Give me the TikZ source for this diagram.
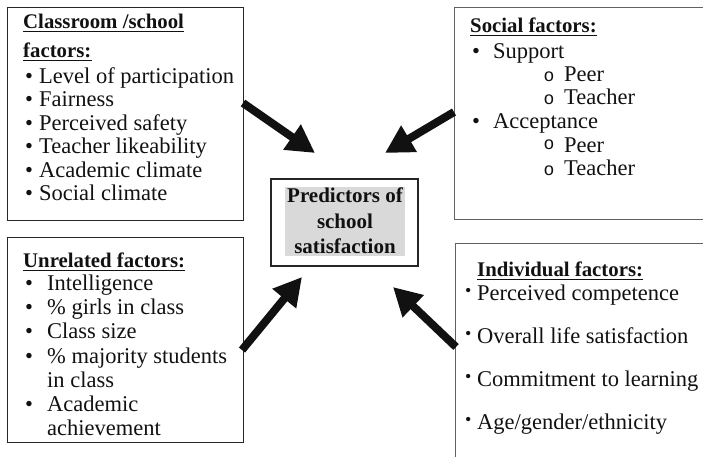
\documentclass[tikz,border=0pt]{standalone}
\usepackage{fontspec}
\setmainfont{Liberation Serif}
\newfontfamily\circfont{Liberation Mono}
\usetikzlibrary{arrows.meta}
\definecolor{ink}{HTML}{111111}
\definecolor{labelgray}{HTML}{D9D9D9}

\begin{document}
\begin{tikzpicture}[x=1pt,y=-1pt,
  panel/.style={draw=black!85, line width=1.2pt, anchor=north west, inner sep=0pt},
  panelr/.style={panel, draw=black!62},
  txt/.style={anchor=base west, inner sep=0pt, text=ink, font=\rmfamily\fontsize{22.5}{23}\selectfont},
  head/.style={txt, font=\rmfamily\bfseries\fontsize{20.8}{22}\selectfont},
  ctr/.style={anchor=base, inner sep=0pt, text=ink, font=\rmfamily\bfseries\fontsize{21}{22}\selectfont},
  bul/.style={txt},
  smallbul/.style={anchor=base west, inner sep=0pt, text=ink, font=\rmfamily\fontsize{18}{18}\selectfont, yshift=3.5pt},
  subbul/.style={anchor=base west, inner sep=0pt, text=ink, font=\circfont\fontsize{18}{18}\selectfont},
  uline/.style={line width=1.6pt, draw=ink},
  push/.style={line width=8pt, draw=ink, -{Triangle[length=28pt,width=29pt]}}
]
\useasboundingbox (0,0) rectangle (703,456);
\clip (0,0) rectangle (703,456);

% --- frames -------------------------------------------------------------
\node[panel, minimum width=236pt, minimum height=213pt] (cls) at (7,7) {};
\node[panelr, minimum width=270pt, minimum height=212pt] (soc) at (454,7) {};
\node[panel, minimum width=236pt, minimum height=205pt] (unr) at (7,237) {};
\node[panelr, minimum width=270pt, minimum height=250pt] (ind) at (455,243) {};

% --- central box --------------------------------------------------------
\node[draw=black!85, line width=1.2pt, minimum width=147pt, minimum height=87pt, inner sep=0pt] (core) at (344.5,222.5) {};
\node[fill=labelgray, minimum width=120pt, minimum height=69pt, inner sep=0pt] (coretag) at (345,221.5) {};
\node[ctr] (c1) at (345,202) {Predictors of};
\node[ctr] (c2) at (345,228) {school};
\node[ctr] (c3) at (345,253) {satisfaction};

% --- classroom / school factors -----------------------------------------
\node[head] (clsh1) at (23,28) {Classroom /school};
\node[head] (clsh2) at (23,57) {factors:};
\draw[uline] ([yshift=-3.5pt]clsh1.base west) -- ([yshift=-3.5pt]clsh1.base east);
\draw[uline] ([yshift=-3.5pt]clsh2.base west) -- ([yshift=-3.5pt]clsh2.base east);
\foreach \y/\t [count=\i] in {83/{Level of participation}, 106/{Fairness}, 130/{Perceived safety},
    153/{Teacher likeability}, 177/{Academic climate}, 200/{Social climate}}{
  \node[bul] (clsb\i) at (25,\y) {•};
  \node[txt] (clst\i) at (39,\y) {\t};
}

% --- social factors ----------------------------------------------------
\node[head] (soch) at (470,32) {Social factors:};
\draw[uline] ([yshift=-3.5pt]soch.base west) -- ([yshift=-3.5pt]soch.base east);
\node[bul] (socb1) at (472,58) {•};
\node[txt] (soct1) at (493,58) {Support};
\node[subbul] (socc1) at (543.5,81) {o};
\node[txt] (socs1) at (564,81) {Peer};
\node[subbul] (socc2) at (543.5,104) {o};
\node[txt] (socs2) at (564,104) {Teacher};
\node[bul] (socb2) at (472,128) {•};
\node[txt] (soct2) at (493,128) {Acceptance};
\node[subbul, yshift=3pt] (socc3) at (543.5,152) {o};
\node[txt] (socs3) at (564,152) {Peer};
\node[subbul] (socc4) at (543.5,175) {o};
\node[txt] (socs4) at (564,175) {Teacher};

% --- unrelated factors -------------------------------------------------
\node[head] (unrh) at (23,267) {Unrelated factors:};
\draw[uline] ([yshift=-3.5pt]unrh.base west) -- ([yshift=-3.5pt]unrh.base east);
\foreach \y/\t [count=\i] in {290/{Intelligence}, 314/{\% girls in class}, 338/{Class size},
    363/{\% majority students}, 411/{Academic}}{
  \node[bul] (unrb\i) at (25,\y) {•};
  \node[txt] (unrt\i) at (47,\y) {\t};
}
\node[txt] (unrw1) at (47,387) {in class};
\node[txt] (unrw2) at (47,435) {achievement};

% --- individual factors ------------------------------------------------
\node[head] (indh) at (477,276) {Individual factors:};
\draw[uline] ([yshift=-3.5pt]indh.base west) -- ([yshift=-3.5pt]indh.base east);
\foreach \y/\t [count=\i] in {300/{Perceived competence}, 343/{Overall life satisfaction},
    386/{Commitment to learning}, 429/{Age/gender/ethnicity}}{
  \node[smallbul] (indb\i) at (465,\y) {•};
  \node[txt] (indt\i) at (477,\y) {\t};
}

% --- arrows towards the central box ------------------------------------
\coordinate (a1s) at (243,103); \coordinate (a1e) at (315,153);
\coordinate (a2s) at (454,112); \coordinate (a2e) at (385,153);
\coordinate (a3s) at (242,350); \coordinate (a3e) at (302,277);
\coordinate (a4s) at (456,347); \coordinate (a4e) at (393,287);
\draw[push] (a1s) -- (a1e);
\draw[push] (a2s) -- (a2e);
\draw[push] (a3s) -- (a3e);
\draw[push] (a4s) -- (a4e);
\end{tikzpicture}
\end{document}
